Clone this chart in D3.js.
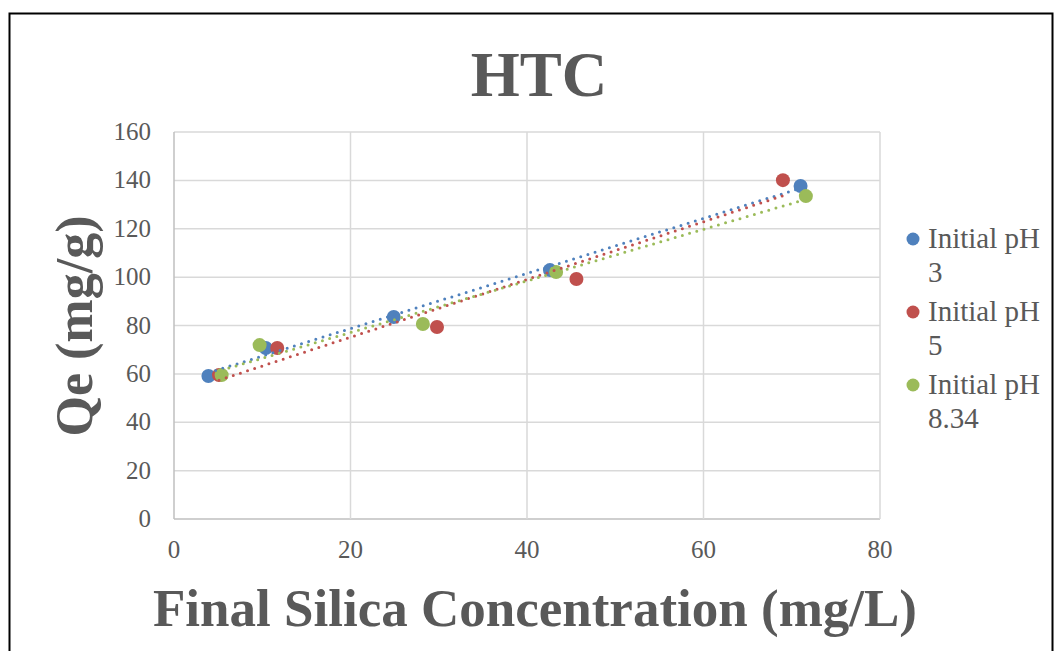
<!DOCTYPE html>
<html>
<head>
<meta charset="utf-8">
<script src="https://cdn.jsdelivr.net/npm/d3@7"></script>
<style>
  body { margin: 0; background: #fff; }
  svg { display: block; }
</style>
</head>
<body>
<svg id="chart" width="1055" height="651"></svg>
<script>
// values
const seriesNames = ["Initial pH 3", "Initial pH 5", "Initial pH 8.34"];
const seriesColors = ["#4F81BD", "#C0504D", "#9BBB59"];
const ph3X = [3.9, 10.4, 24.9, 42.6, 71.0];
const ph3Y = [59.1, 70.7, 83.5, 102.9, 137.7];
const ph5X = [5.1, 11.7, 29.8, 45.6, 69.0];
const ph5Y = [59.5, 70.7, 79.4, 99.2, 140.1];
const ph834X = [5.4, 9.7, 28.2, 43.3, 71.6];
const ph834Y = [59.5, 71.9, 80.6, 102.1, 133.5];
const xTicks = [0, 20, 40, 60, 80];
const yTicks = [0, 20, 40, 60, 80, 100, 120, 140, 160];

const grey = "#595959";
var svg = d3.select('#chart');

// outer chart border
svg.append('rect')
  .attr('x', 9.5).attr('y', 13.5).attr('width', 1043).attr('height', 700)
  .attr('fill', 'none').attr('stroke', '#000').attr('stroke-width', 2);

var x = d3.scaleLinear().domain([0, 80]).range([174, 880]);
var y = d3.scaleLinear().domain([0, 160]).range([519, 132]);

// gridlines
svg.selectAll('.hgrid').data(yTicks).enter().append('line')
  .attr('x1', x(0)).attr('x2', x(80))
  .attr('y1', d => y(d)).attr('y2', d => y(d))
  .attr('stroke', d => d == 0 ? '#BFBFBF' : '#D9D9D9').attr('stroke-width', 1.5);
svg.selectAll('.vgrid').data(xTicks).enter().append('line')
  .attr('y1', y(0)).attr('y2', y(160))
  .attr('x1', d => x(d)).attr('x2', d => x(d))
  .attr('stroke', d => d == 0 ? '#BFBFBF' : '#D9D9D9').attr('stroke-width', 1.5);

// tick labels
var tickFont = "'Liberation Serif', serif";
svg.selectAll('.ylab').data(yTicks).enter().append('text')
  .attr('x', 151).attr('y', d => y(d) + 8)
  .attr('text-anchor', 'end').attr('font-family', tickFont)
  .attr('font-size', 25).attr('fill', grey)
  .text(d => d);
svg.selectAll('.xlab').data(xTicks).enter().append('text')
  .attr('x', d => x(d)).attr('y', 558)
  .attr('text-anchor', 'middle').attr('font-family', tickFont)
  .attr('font-size', 25).attr('fill', grey)
  .text(d => d);

// titles
svg.append('text').attr('x', 539).attr('y', 96)
  .attr('text-anchor', 'middle').attr('font-family', "'Liberation Serif', serif")
  .attr('font-weight', 'bold').attr('font-size', 63).attr('fill', grey)
  .text('HTC');
svg.append('text').attr('x', 535).attr('y', 626)
  .attr('text-anchor', 'middle').attr('font-family', "'Liberation Serif', serif")
  .attr('font-weight', 'bold').attr('font-size', 53).attr('fill', grey)
  .text('Final Silica Concentration (mg/L)');
svg.append('text')
  .attr('transform', 'translate(92,326) rotate(-90)')
  .attr('text-anchor', 'middle').attr('font-family', "'Liberation Serif', serif")
  .attr('font-weight', 'bold').attr('font-size', 52).attr('fill', grey)
  .text('Qe (mg/g)');

var series = [
  {xs: ph3X, ys: ph3Y},
  {xs: ph5X, ys: ph5Y},
  {xs: ph834X, ys: ph834Y}
];

// linear trendline by least squares
var fit = function(xs, ys){
  var mx = d3.mean(xs), my = d3.mean(ys);
  var sxy = d3.sum(xs, (v, i) => (v - mx) * (ys[i] - my));
  var sxx = d3.sum(xs, v => (v - mx) * (v - mx));
  var b = sxy / sxx;
  return {a: my - b * mx, b: b};
};

// points first, dotted trendlines over them (as in excel)
series.forEach(function(s, k){
  s.xs.forEach(function(v, i){
    svg.append('circle')
      .attr('cx', x(v)).attr('cy', y(s.ys[i])).attr('r', 7)
      .attr('fill', seriesColors[k]);
  });
});
series.forEach(function(s, k){
  var f = fit(s.xs, s.ys);
  var x0 = d3.min(s.xs), x1 = d3.max(s.xs);
  svg.append('line')
    .attr('x1', x(x0)).attr('y1', y(f.a + f.b * x0))
    .attr('x2', x(x1)).attr('y2', y(f.a + f.b * x1))
    .attr('stroke', seriesColors[k]).attr('stroke-width', 3)
    .attr('stroke-linecap', 'round').attr('stroke-dasharray', '0,7.5');
});

// legend
var legendTop = [248, 321, 394];
seriesNames.forEach(function(name, k){
  var parts = [name.slice(0, 10), name.slice(11)];
  svg.append('circle').attr('cx', 913).attr('cy', legendTop[k] - 9).attr('r', 6.5)
    .attr('fill', seriesColors[k]);
  parts.forEach(function(p, j){
    svg.append('text').attr('x', 928).attr('y', legendTop[k] + j * 34)
      .attr('font-family', "'Liberation Serif', serif").attr('font-size', 29)
      .attr('fill', grey).text(p);
  });
});
</script>
</body>
</html>
